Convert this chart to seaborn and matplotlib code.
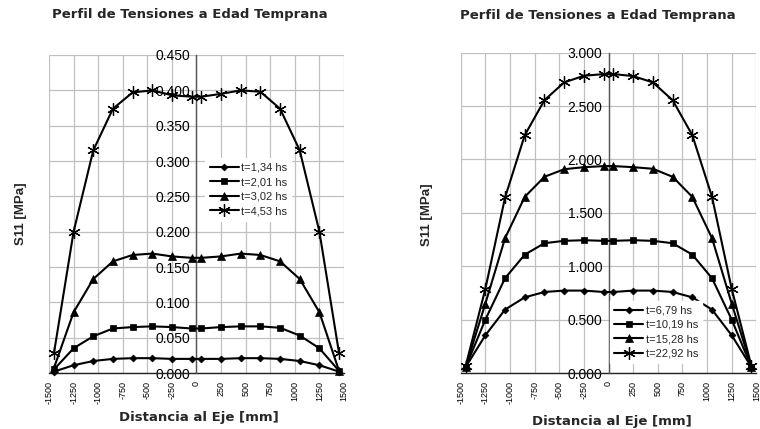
import numpy as np
import pandas as pd
import matplotlib
matplotlib.use("Agg")
import matplotlib.pyplot as plt
import seaborn as sns

# ---------------- data ----------------
x_pos = [-1450, -1250, -1050, -850, -650, -450, -250, -50,
         50, 250, 450, 650, 850, 1050, 1250, 1450]

left_labels = ["t=1,34 hs", "t=2,01 hs", "t=3,02 hs", "t=4,53 hs"]
left_t134 = [0.002, 0.011, 0.017, 0.020, 0.021, 0.021, 0.020, 0.020,
             0.020, 0.020, 0.021, 0.021, 0.020, 0.017, 0.011, 0.002]
left_t201 = [0.005, 0.035, 0.052, 0.063, 0.065, 0.066, 0.065, 0.063,
             0.063, 0.065, 0.066, 0.066, 0.064, 0.053, 0.035, 0.003]
left_t302 = [0.007, 0.086, 0.133, 0.158, 0.167, 0.169, 0.165, 0.163,
             0.163, 0.165, 0.169, 0.167, 0.158, 0.133, 0.086, 0.003]
left_t453 = [0.028, 0.200, 0.315, 0.374, 0.397, 0.400, 0.393, 0.391,
             0.391, 0.395, 0.400, 0.398, 0.374, 0.315, 0.200, 0.028]

right_labels = ["t=6,79 hs", "t=10,19 hs", "t=15,28 hs", "t=22,92 hs"]
right_t679 = [0.056, 0.353, 0.594, 0.709, 0.759, 0.772, 0.772, 0.759,
              0.759, 0.772, 0.772, 0.759, 0.709, 0.594, 0.353, 0.056]
right_t1019 = [0.055, 0.500, 0.888, 1.109, 1.216, 1.238, 1.244, 1.238,
               1.238, 1.244, 1.238, 1.216, 1.109, 0.888, 0.500, 0.055]
right_t1528 = [0.058, 0.650, 1.263, 1.650, 1.838, 1.909, 1.928, 1.938,
               1.938, 1.928, 1.913, 1.838, 1.650, 1.263, 0.650, 0.058]
right_t2292 = [0.065, 0.788, 1.644, 2.228, 2.556, 2.722, 2.784, 2.800,
               2.800, 2.781, 2.722, 2.556, 2.228, 1.650, 0.788, 0.065]

x_ticks = list(range(-1500, 1501, 250))
title_text = "Perfil de Tensiones a Edad Temprana"
ylabel_text = "S11 [MPa]"
xlabel_text = "Distancia al Eje [mm]"

# ---------------- style ----------------
sns.set_style("white")
plt.rcParams['font.family'] = ['Liberation Sans', 'DejaVu Sans']

markers = ['D', 's', '^', (6, 2, 0)]
msizes = [3.5, 4.5, 5.5, 9]

fig = plt.figure(figsize=(7.6, 4.29), dpi=100)
ax1 = fig.add_axes([0.0645, 0.1305, 0.3881, 0.7413])
ax2 = fig.add_axes([0.6062, 0.1305, 0.3890, 0.7466])


def draw(ax, series, labels, ymax, ystep, leg_anchor):
    for vals, lab, m, ms in zip(series, labels, markers, msizes):
        df = pd.DataFrame({"x": x_pos, "y": vals})
        sns.lineplot(data=df, x="x", y="y", ax=ax, color="black", lw=1.5,
                     marker=m, markersize=ms, markeredgecolor="black",
                     markeredgewidth=0.9 if m == markers[3] else 0.5,
                     label=lab, clip_on=False, zorder=5)
    ax.set_xlim(-1500, 1500)
    ax.set_ylim(0, ymax)
    ax.set_xticks(x_ticks)
    ax.set_xticklabels([str(v) for v in x_ticks], rotation=90, fontsize=6.5)
    yt = np.arange(0, ymax + ystep / 2, ystep)
    ax.set_yticks(yt)
    ax.set_yticklabels([f"{v:.3f}" for v in yt], fontsize=6.3,
                       family="DejaVu Sans")
    ax.grid(True, color="#c0c0c0", lw=0.9)
    ax.set_axisbelow(True)
    for s in ["top", "right"]:
        ax.spines[s].set_visible(False)
    ax.spines["left"].set_position(("data", 0))
    ax.spines["left"].set_color("#555555")
    ax.spines["left"].set_linewidth(1.0)
    ax.spines["left"].set_zorder(3)
    ax.spines["bottom"].set_color("#222222")
    ax.spines["bottom"].set_linewidth(1.0)
    ax.tick_params(axis="both", direction="out", length=3, width=0.8,
                   colors="black", pad=1.5)
    ax.tick_params(axis="x", pad=2.5)
    ax.set_xlabel("")
    ax.set_ylabel("")
    leg = ax.legend(loc="upper left", bbox_to_anchor=leg_anchor,
                    borderaxespad=0, fontsize=8, frameon=True,
                    handlelength=2.6, handletextpad=0.2, labelspacing=0.4,
                    borderpad=0.4, fancybox=False, framealpha=1)
    leg.get_frame().set_edgecolor("white")
    leg.set_zorder(10)


draw(ax1, [left_t134, left_t201, left_t302, left_t453], left_labels,
     0.45, 0.05, (0.53, 0.675))
draw(ax2, [right_t679, right_t1019, right_t1528, right_t2292], right_labels,
     3.0, 0.5, (0.505, 0.225))

# titles and labels
tfont = dict(fontsize=9.5, fontweight="bold", family="DejaVu Sans")
fig.text(0.250, 0.967, title_text, ha="center", va="center", **tfont)
fig.text(0.787, 0.963, title_text, ha="center", va="center", **tfont)
fig.text(0.0276, 0.503, ylabel_text, ha="center", va="center",
         rotation=90, fontsize=9.5, fontweight="bold")
fig.text(0.562, 0.499, ylabel_text, ha="center", va="center",
         rotation=90, fontsize=9.5, fontweight="bold")
fig.text(0.262, 0.026, xlabel_text, ha="center", va="center", **tfont)
fig.text(0.805, 0.017, xlabel_text, ha="center", va="center", **tfont)

fig.savefig("out.png", dpi=100)
